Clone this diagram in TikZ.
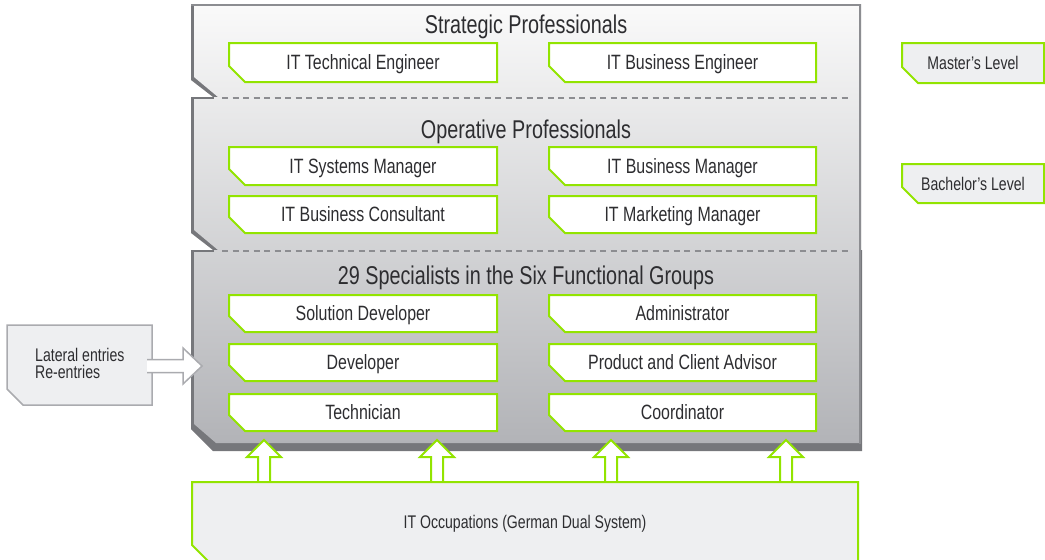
\documentclass[tikz,border=0pt]{standalone}
\usepackage{fontspec}
\setmainfont{Liberation Sans}[FakeStretch=0.77]
\usetikzlibrary{calc}
\definecolor{lime}{RGB}{146,228,0}
\definecolor{panelD}{RGB}{118,119,123}
\definecolor{panelB}{RGB}{140,141,145}
\definecolor{txt}{RGB}{45,45,48}
\definecolor{pale}{RGB}{238,239,241}
\definecolor{arrg}{RGB}{170,171,175}
\definecolor{ptop}{RGB}{250,250,250}
\definecolor{pbot}{RGB}{178,179,183}
\newcommand\mybox[8]{%
  \draw[#1] (#4,#5) -- (#6,#5) -- (#6,#7) -- ({#4+16},#7) -- (#4,{#7-16}) -- cycle;
  \node[#2] (#3) at ({(#4+#6)/2},{(#5+#7)/2}) {#8};}
\begin{document}
\begin{tikzpicture}[x=1pt,y=-1pt,
  gbox/.style={draw=lime,line width=2pt,fill=white},
  pbox/.style={draw=lime,line width=2pt,fill=pale},
  lbox/.style={draw=arrg,line width=1.5pt,fill=pale},
  lbl/.style={text=txt,inner sep=0pt,text height=14.8pt,text depth=0pt,font=\fontsize{20.7}{23}\selectfont},
  ttl/.style={text=txt,inner sep=0pt,text height=18.4pt,text depth=0pt,font=\fontsize{25.7}{29}\selectfont},
  sml/.style={text=txt,inner sep=0pt,text height=13.1pt,text depth=0pt,font=\fontsize{18.3}{21}\selectfont},
  hollowg/.style={draw=lime,line width=2pt,fill=white,line join=miter},
  hollowa/.style={draw=arrg,line width=1.5pt,fill=white,line join=miter},
  dashline/.style={draw=panelB,line width=2pt,dash pattern=on 6pt off 4.5pt},
  uparr/.pic={\draw[hollowg] (-6,0) -- (-6,-25) -- (-17,-25) -- (0,-42) -- (17,-25) -- (6,-25) -- (6,0);}
]
\useasboundingbox (0,0) rectangle (1045,560);
% ---------- panel: dark base ----------
\fill[panelD] (191,4) -- (861,4) -- (861,97) -- (213,97) -- (191,80) -- cycle;
\fill[panelD] (191,97) -- (861,97) -- (861,250) -- (213,250) -- (191,233) -- cycle;
\fill[panelD] (191,250) -- (862,250) -- (862,451) -- (213,451) -- (191,429) -- cycle;
% ---------- panel: light gradient ----------
\begin{scope}
  \clip (194,4) -- (861,4) -- (861,97) -- (218,97) -- (194,77) -- cycle
        (194,97) -- (861,97) -- (861,250) -- (218,250) -- (194,230) -- cycle
        (194,250) -- (860,250) -- (860,443) -- (216,443) -- (194,424) -- cycle;
  \shade[top color=ptop,bottom color=pbot] (190,4) rectangle (862,444);
\end{scope}
\draw[panelB,line width=2pt] (191,5) -- (860,5) -- (860,444);
\draw[panelD,line width=2pt] (191,98) -- (214,98);
\draw[panelD,line width=2pt] (191,251) -- (214,251);
\draw[dashline] (222,98) -- (848,98);
\draw[dashline] (222,251) -- (848,251);
% ---------- titles ----------
\node[ttl] (t1) at (526,24) {Strategic Professionals};
\node[ttl] (t2) at (526,129) {Operative Professionals};
\node[ttl] (t3) at (526,275) {29 Specialists in the Six Functional Groups};
% ---------- green boxes ----------
\mybox{gbox}{lbl}{b11}{229}{43}{497}{82}{IT Technical Engineer}
\mybox{gbox}{lbl}{b12}{549}{43}{816}{82}{IT Business Engineer}
\mybox{gbox}{lbl}{b21}{229}{147}{497}{185}{IT Systems Manager}
\mybox{gbox}{lbl}{b22}{549}{147}{816}{185}{IT Business Manager}
\mybox{gbox}{lbl}{b31}{229}{196}{497}{233}{IT Business Consultant}
\mybox{gbox}{lbl}{b32}{549}{196}{816}{233}{IT Marketing Manager}
\mybox{gbox}{lbl}{b41}{229}{295}{497}{332}{Solution Developer}
\mybox{gbox}{lbl}{b42}{549}{295}{816}{332}{Administrator}
\mybox{gbox}{lbl}{b51}{229}{344}{497}{381}{Developer}
\mybox{gbox}{lbl}{b52}{549}{344}{816}{381}{Product and Client Advisor}
\mybox{gbox}{lbl}{b61}{229}{394}{497}{431}{Technician}
\mybox{gbox}{lbl}{b62}{549}{394}{816}{431}{Coordinator}
% ---------- level boxes ----------
\mybox{pbox}{sml}{mas}{902}{43}{1044}{83}{Master’s Level}
\mybox{pbox}{sml}{bac}{902}{164}{1044}{203}{Bachelor’s Level}
% ---------- lateral entries ----------
\draw[lbox] (7,325) -- (152,325) -- (152,405) -- (23,405) -- (7,389) -- cycle;
\node[sml,anchor=west] (lat1) at (35,355) {Lateral entries};
\node[sml,anchor=west] (lat2) at (35,372) {Re-entries};
\coordinate (latend) at (147,366);
\coordinate (paneltip) at (202,366);
\draw[hollowa] ($(latend)+(0,-6.5)$) -- ($(paneltip)+(-19,-6.5)$) -- ($(paneltip)+(-19,-18)$) -- (paneltip)
   -- ($(paneltip)+(-19,18)$) -- ($(paneltip)+(-19,6.5)$) -- ($(latend)+(0,6.5)$);
% ---------- up arrows ----------
\coordinate (u1) at (264,482);
\coordinate (u2) at (437,482);
\coordinate (u3) at (611,482);
\coordinate (u4) at (786,482);
\pic at (u1) {uparr};
\pic at (u2) {uparr};
\pic at (u3) {uparr};
\pic at (u4) {uparr};
% ---------- IT occupations ----------
\mybox{pbox}{sml}{occ}{192}{482}{858}{561}{IT Occupations (German Dual System)}
\end{tikzpicture}
\end{document}
